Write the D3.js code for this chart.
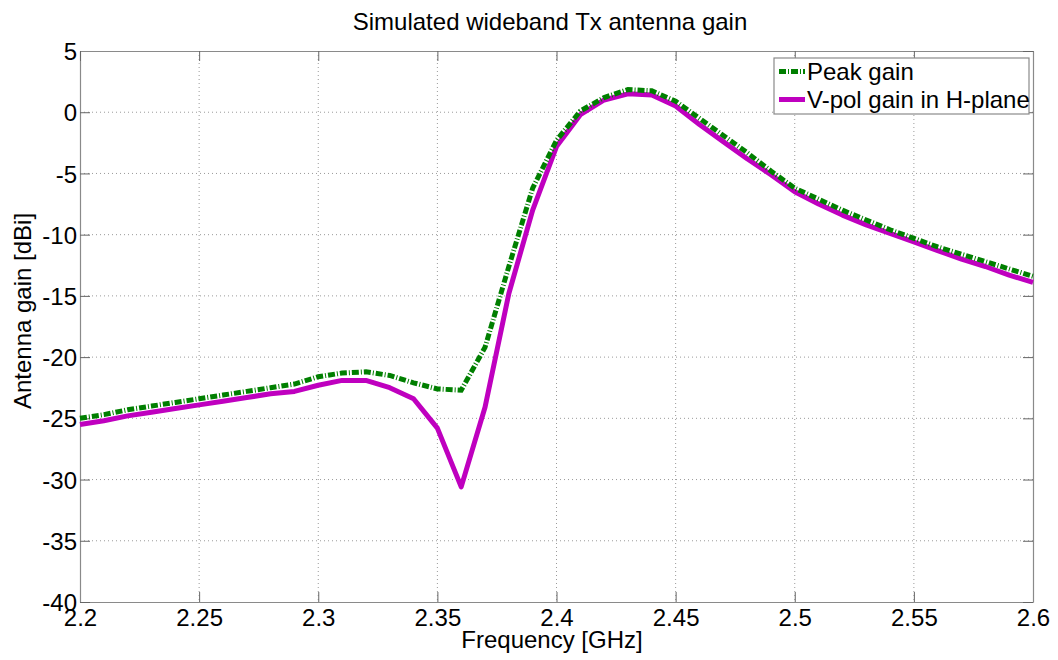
<!DOCTYPE html>
<html>
<head>
<meta charset="utf-8">
<script src="https://cdn.jsdelivr.net/npm/d3@7"></script>
<style>
  html, body { margin: 0; padding: 0; background: #fff; }
  svg { display: block; }
  text { font-family: "Liberation Sans", Arial, sans-serif; fill: #000; }
</style>
</head>
<body>
<svg id="chart" width="1058" height="660"></svg>
<script>
// ---- data ----
const frequency = [2.20,2.21,2.22,2.23,2.24,2.25,2.26,2.27,2.28,2.29,2.30,2.31,2.32,2.33,2.34,2.35,2.36,2.37,2.38,2.39,2.40,
                   2.41,2.42,2.43,2.44,2.45,2.46,2.47,2.48,2.49,2.50,2.51,2.52,2.53,2.54,2.55,2.56,2.57,2.58,2.59,2.60];
const peakGain = [-25.0,-24.7,-24.3,-24.0,-23.7,-23.4,-23.1,-22.8,-22.5,-22.2,-21.6,-21.3,-21.2,-21.5,-22.1,-22.6,-22.7,-19.2,-12.6,-6.2,-2.3,
                  0.1,1.2,1.85,1.75,0.9,-0.5,-1.9,-3.3,-4.8,-6.2,-7.1,-8.0,-8.8,-9.6,-10.3,-11.0,-11.6,-12.2,-12.8,-13.4];
const vpolGain = [-25.5,-25.2,-24.8,-24.5,-24.2,-23.9,-23.6,-23.3,-23.0,-22.8,-22.3,-21.9,-21.9,-22.5,-23.4,-25.8,-30.6,-24.1,-14.8,-8.0,-2.8,
                  -0.2,1.0,1.5,1.4,0.5,-1.0,-2.4,-3.8,-5.1,-6.5,-7.5,-8.4,-9.2,-9.9,-10.6,-11.3,-12.0,-12.6,-13.3,-13.9];
const xTicks = [2.2,2.25,2.3,2.35,2.4,2.45,2.5,2.55,2.6];
const xTickLabels = ["2.2","2.25","2.3","2.35","2.4","2.45","2.5","2.55","2.6"];
const yTicks = [5,0,-5,-10,-15,-20,-25,-30,-35,-40];
const yTickLabels = ["5","0","-5","-10","-15","-20","-25","-30","-35","-40"];
const seriesNames = ["Peak gain","V-pol gain in H-plane"];
const titleText = "Simulated wideband Tx antenna gain";
const xLabelText = "Frequency [GHz]";
const yLabelText = "Antenna gain [dBi]";

// ---- layout ----
const L = 80, R = 1033, T = 51, B = 602;
const FS = 24;
const svg = d3.select("#chart");
const x = d3.scaleLinear().domain([2.2, 2.6]).range([L, R]);
const y = d3.scaleLinear().domain([-40, 5]).range([B, T]);

// grid
const grid = svg.append("g");
grid.selectAll("line.vg").data(xTicks.slice(1, -1)).enter().append("line")
  .attr("x1", d => x(d)).attr("x2", d => x(d)).attr("y1", T).attr("y2", B)
  .attr("stroke", "#9a9a9a").attr("stroke-width", 1).attr("stroke-dasharray", "1,3");
grid.selectAll("line.hg").data(yTicks.slice(1, -1)).enter().append("line")
  .attr("x1", L).attr("x2", R).attr("y1", d => y(d)).attr("y2", d => y(d))
  .attr("stroke", "#9a9a9a").attr("stroke-width", 1).attr("stroke-dasharray", "1,3");

// axes (box with inward ticks)
const axCol = "#8a8a8a";
const bottomAxis = d3.axisBottom(x).tickValues(xTicks).tickFormat((d, i) => xTickLabels[i]).tickSizeInner(-10).tickSizeOuter(0).tickPadding(10);
const leftAxis = d3.axisLeft(y).tickValues(yTicks).tickFormat((d, i) => yTickLabels[i]).tickSizeInner(-10).tickSizeOuter(0).tickPadding(3);
const topAxis = d3.axisTop(x).tickValues(xTicks).tickFormat("").tickSizeInner(-10).tickSizeOuter(0);
const rightAxis = d3.axisRight(y).tickValues(yTicks).tickFormat("").tickSizeInner(-10).tickSizeOuter(0);

function styleAxis(g) {
  g.select(".domain").attr("stroke", axCol).attr("stroke-width", 1.2);
  g.selectAll(".tick line").attr("stroke", "#666").attr("stroke-width", 1);
  g.selectAll(".tick text").attr("font-size", FS).attr("font-family", "Liberation Sans, Arial, sans-serif").attr("fill", "#000");
}
svg.append("g").attr("transform", `translate(0,${B})`).call(bottomAxis).call(styleAxis)
  .selectAll(".tick text").attr("dy", "0.58em");
svg.append("g").attr("transform", `translate(${L},0)`).call(leftAxis).call(styleAxis)
  .selectAll(".tick text").attr("dy", "0.36em");
svg.append("g").attr("transform", `translate(0,${T})`).call(topAxis).call(styleAxis);
svg.append("g").attr("transform", `translate(${R},0)`).call(rightAxis).call(styleAxis);

// lines
const lineGen = vals => d3.line().x((d, i) => x(frequency[i])).y(d => y(d))(vals);
svg.append("path").attr("d", lineGen(vpolGain)).attr("fill", "none")
  .attr("stroke", "#bf00bf").attr("stroke-width", 5).attr("stroke-linejoin", "round");
svg.append("path").attr("d", lineGen(peakGain)).attr("fill", "none")
  .attr("stroke", "#007f00").attr("stroke-width", 5).attr("stroke-dasharray", "7,2,1,2");

// legend
const lg = svg.append("g");
lg.append("rect").attr("x", 774).attr("y", 58).attr("width", 255).attr("height", 56)
  .attr("fill", "#fff").attr("stroke", "#8a8a8a").attr("stroke-width", 1.2);
const legendRows = [
  {name: seriesNames[0], color: "#007f00", dash: "7,2,1,2", cy: 71.5},
  {name: seriesNames[1], color: "#bf00bf", dash: null, cy: 99.5}
];
legendRows.forEach(r => {
  const ln = lg.append("line").attr("x1", 779).attr("x2", 805).attr("y1", r.cy).attr("y2", r.cy)
    .attr("stroke", r.color).attr("stroke-width", 5);
  if (r.dash) ln.attr("stroke-dasharray", r.dash);
  lg.append("text").attr("x", 807).attr("y", r.cy + 8).attr("font-size", FS).text(r.name);
});

// titles
svg.append("text").attr("x", 550).attr("y", 30).attr("text-anchor", "middle").attr("font-size", FS).text(titleText);
svg.append("text").attr("x", 552).attr("y", 648).attr("text-anchor", "middle").attr("font-size", FS).text(xLabelText);
svg.append("text").attr("transform", "translate(31,311) rotate(-90)").attr("text-anchor", "middle").attr("font-size", FS).text(yLabelText);
</script>
</body>
</html>
